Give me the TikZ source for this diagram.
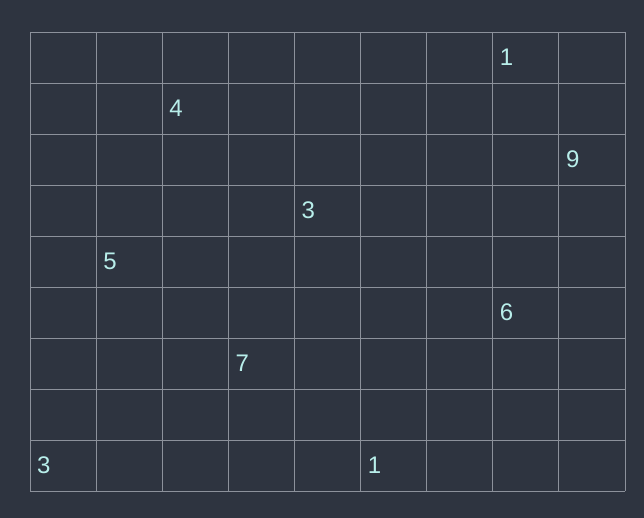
\documentclass[tikz,border=0pt]{standalone}
\usepackage{fontspec}
\setmainfont{Liberation Sans}
\usepackage{tikz}
\definecolor{bgcol}{HTML}{2E3440}
\definecolor{gridcol}{HTML}{8C919B}
\definecolor{digitcol}{HTML}{B8EEEA}

\begin{document}
\begin{tikzpicture}[x=1pt,y=-1pt]
\tikzstyle{digit}=[anchor=west,inner sep=0pt,text=digitcol,font=\fontsize{24}{24}\selectfont]
\fill[bgcol] (0,0) rectangle (644,518);
\useasboundingbox (0,0) rectangle (644,518);
\foreach \i in {0,...,9}
	\draw[gridcol,line width=0.8pt] (30+\i*66.11,32) -- (30+\i*66.11,491);
\foreach \j in {0,...,9}
	\draw[gridcol,line width=0.8pt] (30,32+\j*51) -- (625,32+\j*51);
\foreach \name/\col/\row/\val in {
	a/7/0/1,
	b/2/1/4,
	c/8/2/9,
	d/4/3/3,
	e/1/4/5,
	f/7/5/6,
	g/3/6/7,
	h/0/8/3,
	k/5/8/1}
	\node[digit] (\name) at (30+\col*66.11+7,32+\row*51+25.5) {\val};
\end{tikzpicture}
\end{document}
